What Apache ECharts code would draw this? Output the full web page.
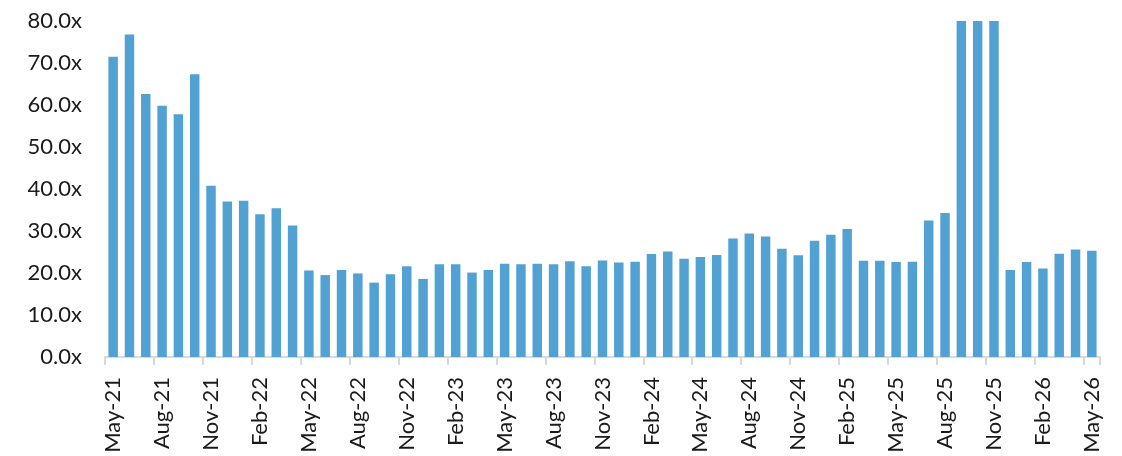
<!DOCTYPE html>
<html>
<head>
<meta charset="utf-8">
<script src="https://cdn.jsdelivr.net/npm/echarts@6/dist/echarts.min.js"></script>
<style>html,body{margin:0;padding:0;background:#fff}#c{width:1122px;height:456px}</style>
</head>
<body>
<div id="c"></div>
<script>
const categories = [
 'May-21','Jun-21','Jul-21','Aug-21','Sep-21','Oct-21','Nov-21','Dec-21','Jan-22','Feb-22','Mar-22','Apr-22',
 'May-22','Jun-22','Jul-22','Aug-22','Sep-22','Oct-22','Nov-22','Dec-22','Jan-23','Feb-23','Mar-23','Apr-23',
 'May-23','Jun-23','Jul-23','Aug-23','Sep-23','Oct-23','Nov-23','Dec-23','Jan-24','Feb-24','Mar-24','Apr-24',
 'May-24','Jun-24','Jul-24','Aug-24','Sep-24','Oct-24','Nov-24','Dec-24','Jan-25','Feb-25','Mar-25','Apr-25',
 'May-25','Jun-25','Jul-25','Aug-25','Sep-25','Oct-25','Nov-25','Dec-25','Jan-26','Feb-26','Mar-26','Apr-26',
 'May-26'
];
const values = [
 71.5,76.8,62.6,59.8,57.8,67.3,40.8,37.0,37.2,34.0,35.4,31.3,
 20.6,19.5,20.7,19.9,17.7,19.7,21.6,18.6,22.1,22.1,20.1,20.7,
 22.2,22.1,22.2,22.1,22.8,21.6,23.0,22.5,22.7,24.5,25.1,23.4,
 23.8,24.3,28.2,29.4,28.7,25.8,24.2,27.7,29.1,30.5,22.9,22.9,
 22.6,22.7,32.5,34.3,80,80,80,20.7,22.6,21.1,24.6,25.6,
 25.3
];
const yTicks = [0,10,20,30,40,50,60,70,80];

const chart = echarts.init(document.getElementById('c'));
chart.setOption({
  animation:false,
  grid:{left:105,right:22,top:21,bottom:99,containLabel:false},
  xAxis:{
    type:'category',
    data:categories,
    boundaryGap:true,
    axisLine:{lineStyle:{color:'#d9d9d9',width:2}},
    axisTick:{show:true,interval:2,length:8,lineStyle:{color:'#d9d9d9',width:2}},
    axisLabel:{interval:2,rotate:90,margin:20,fontSize:22,color:'#1a1a1a',fontFamily:'Lato'}
  },
  yAxis:{
    type:'value',
    min:yTicks[0],max:yTicks[yTicks.length-1],interval:10,
    axisLine:{show:false},axisTick:{show:false},
    splitLine:{show:false},
    axisLabel:{margin:23,fontSize:22,color:'#1a1a1a',fontFamily:'Lato',formatter:v=>v.toFixed(1)+'x'}
  },
  series:[{
    type:'bar',
    data:values,
    barCategoryGap:'42%',
    itemStyle:{color:'#52a1d3'}
  }]
});
</script>
</body>
</html>
